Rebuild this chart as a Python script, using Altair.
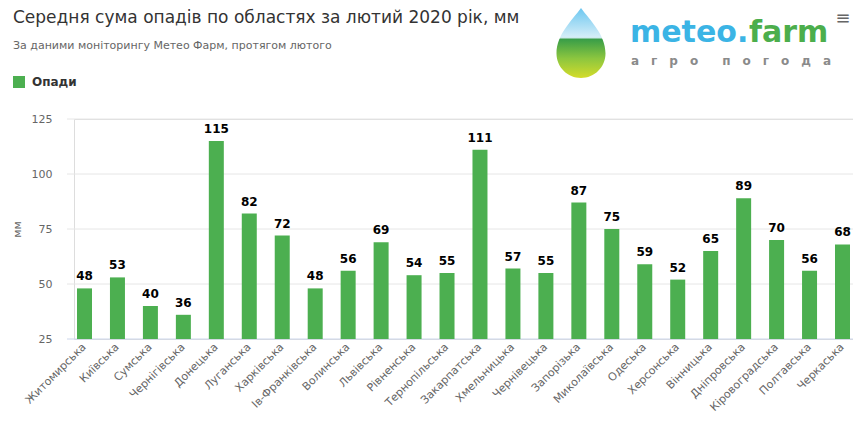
import altair as alt
import pandas as pd

regions = ["Житомирська", "Київська", "Сумська", "Чернігівська", "Донецька", "Луганська",
           "Харківська", "Ів-Франківська", "Волинська", "Львівська", "Рівненська", "Тернопільська",
           "Закарпатська", "Хмельницька", "Чернівецька", "Запорізька", "Миколаївська", "Одеська",
           "Херсонська", "Вінницька", "Дніпровська", "Кіровоградська", "Полтавська", "Черкаська"]
values = [48, 53, 40, 36, 115, 82, 72, 48, 56, 69, 54, 55, 111, 57, 55, 87, 75, 59, 52, 65, 89, 70, 56, 68]
series_name = "Опади"
y_ticks = [25, 50, 75, 100, 125]
grid_ticks = [50, 75, 100, 125]
base_tick = [25]

title_text = "Середня сума опадів по областях за лютий 2020 рік, мм"
subtitle_text = "За даними моніторингу Метео Фарм, протягом лютого"
y_title = "мм"

FONT = "DejaVu Sans"
W, H = 779, 220

df = pd.DataFrame({"region": regions, "value": values, "series": [series_name] * len(regions)})
yscale = alt.Scale(domain=[25, 125], nice=False, zero=False)
yaxis = alt.Axis(values=y_ticks, grid=False, domain=False, ticks=False, labelPadding=22,
                 labelFontSize=11, labelColor="#666666", labelFont=FONT,
                 title=y_title, titleFont=FONT, titleFontSize=11, titleFontWeight="normal",
                 titleColor="#666666", titleAngle=270, titleX=-57, titleY=H / 2,
                 titleAlign="center", titleBaseline="middle")
xenc = alt.X("region:N", sort=regions,
             scale=alt.Scale(paddingInner=0.545, paddingOuter=0.091),
             axis=alt.Axis(title=None, labelAngle=315, labelFontSize=11, labelColor="#666666",
                           labelFont=FONT, domain=False, ticks=False, labelPadding=6,
                           labelAlign="right", labelBaseline="middle"))

grid = alt.Chart(pd.DataFrame({"tick": grid_ticks})).mark_rule(color="#e6e6e6", strokeWidth=1).encode(
    y=alt.Y("tick:Q", scale=yscale, axis=yaxis), x=alt.value(-7), x2=alt.value(W))
base = alt.Chart(pd.DataFrame({"tick": base_tick})).mark_rule(color="#ccd6eb", strokeWidth=1).encode(
    y=alt.Y("tick:Q", scale=yscale, axis=yaxis), x=alt.value(-7), x2=alt.value(W))

bars = alt.Chart(df).mark_bar(width=15).encode(
    x=xenc,
    y=alt.Y("value:Q", scale=yscale, axis=yaxis),
    y2=alt.datum(25),
    color=alt.Color("series:N", scale=alt.Scale(range=["#4caf50"]),
                    legend=alt.Legend(title=None, orient="none", legendX=-61, legendY=-43,
                                      symbolType="square", symbolSize=144, symbolStrokeWidth=0,
                                      symbolOpacity=1, labelFont=FONT, labelFontSize=12,
                                      labelFontWeight="bold", labelColor="#333333",
                                      labelOffset=7, padding=0)),
)

labels = alt.Chart(df).mark_text(baseline="alphabetic", dy=-8, font=FONT, fontSize=12,
                                 fontWeight="bold", color="#000000").encode(
    x=alt.X("region:N", sort=regions), y=alt.Y("value:Q", scale=yscale, axis=yaxis), text="value:Q")


def txt(s, x, y, **kw):
    return alt.Chart(pd.DataFrame({"t": [s]})).mark_text(**kw).encode(
        text="t:N", x=alt.value(x), y=alt.value(y))


title = txt(title_text, -61, -96, align="left", baseline="alphabetic", font=FONT, fontSize=17,
            color="#333333")
subtitle = txt(subtitle_text, -61, -70, align="left", baseline="alphabetic", font=FONT,
               fontSize=11, color="#666666")

drop_path = ("M0,-1 C0.25,-0.65 0.7,-0.25 0.7,0.3 A0.7,0.7 0 1,1 -0.7,0.3 "
             "C-0.7,-0.25 -0.25,-0.65 0,-1 Z")
drop_fill = alt.Gradient(gradient="linear", x1=0, y1=0, x2=0, y2=1, stops=[
    alt.GradientStop(offset=0, color="#6cc7f0"),
    alt.GradientStop(offset=0.42, color="#d6eef8"),
    alt.GradientStop(offset=0.45, color="#3a9e48"),
    alt.GradientStop(offset=0.72, color="#8cc63f"),
    alt.GradientStop(offset=1, color="#d4dc2a")])
drop = alt.Chart(pd.DataFrame({"t": [1]})).mark_point(
    shape=drop_path, size=4900, filled=True, fill=drop_fill, opacity=1, strokeWidth=0).encode(
    x=alt.value(581 - 74), y=alt.value(43 - 119))

logo1 = txt("meteo.", 630 - 74, 42 - 119, align="left", baseline="alphabetic", font=FONT,
            fontSize=30, fontWeight="bold", color="#3bb4e5")
logo2 = txt("farm", 749 - 74, 42 - 119, align="left", baseline="alphabetic", font=FONT,
            fontSize=30, fontWeight="bold", color="#4cae4c")
sp = "\u2002\u2002"
logo3 = txt(sp.join("агро") + sp + sp + sp.join("погода"), 631 - 74, 65 - 119, align="left",
            baseline="alphabetic", font=FONT, fontSize=12, fontWeight="bold", color="#8a8a8a")
menu = txt("≡", 843 - 74, 24 - 119, align="center", baseline="alphabetic", font=FONT,
           fontSize=18, color="#666666")

chart = alt.layer(grid, base, bars, labels, title, subtitle, drop, logo1, logo2, logo3, menu).properties(
    width=W, height=H,
    autosize=alt.AutoSizeParams(type="none"),
    padding={"left": 66, "top": 111, "right": 0, "bottom": 75},
).configure_view(stroke=None).configure(background="white")

chart.save("out.html", embed_options={"renderer": "svg", "actions": False})
